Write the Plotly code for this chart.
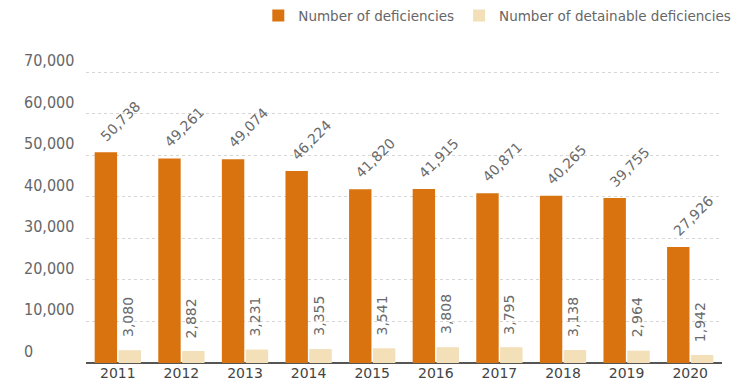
import plotly.graph_objects as go

years = ["2011", "2012", "2013", "2014", "2015", "2016", "2017", "2018", "2019", "2020"]
deficiencies = [50738, 49261, 49074, 46224, 41820, 41915, 40871, 40265, 39755, 27926]
detainable = [3080, 2882, 3231, 3355, 3541, 3808, 3795, 3138, 2964, 1942]
tick_vals = [0, 10000, 20000, 30000, 40000, 50000, 60000, 70000]
tick_text = ["0", "10,000", "20,000", "30,000", "40,000", "50,000", "60,000", "70,000"]

FONT = "DejaVu Sans, sans-serif"
FONT_C = "DejaVu Sans Condensed, DejaVu Sans, sans-serif"
DARK = "#D9730F"
LIGHT = "#F3DFB8"

fig = go.Figure()
fig.add_trace(go.Bar(
    x=years, y=deficiencies, name="Number of deficiencies",
    marker=dict(color=DARK, line=dict(width=0)),
))
fig.add_trace(go.Bar(
    x=years, y=detainable, name="Number of detainable deficiencies",
    marker=dict(color=LIGHT, line=dict(width=0)),
))

# category axis: annotation x uses the category serial number
for i, v in enumerate(deficiencies):
    fig.add_annotation(x=i, y=v, xref="x", yref="y", text=f"{v:,}",
                       showarrow=False, textangle=-45, xanchor="center",
                       yanchor="middle", xshift=3, yshift=31,
                       font=dict(family=FONT, size=14, color="#6a6a6a"))
for i, v in enumerate(detainable):
    fig.add_annotation(x=i, y=v, xref="x", yref="y", text=f"{v:,}",
                       showarrow=False, textangle=-90, xanchor="center",
                       yanchor="middle", xshift=10, yshift=33,
                       font=dict(family=FONT, size=14, color="#6a6a6a"))

for v, t in zip(tick_vals, tick_text):
    fig.add_annotation(x=-0.10, xref="paper", xanchor="left", y=v, yref="y",
                       yanchor="bottom", yshift=0, text=t, showarrow=False,
                       font=dict(family=FONT_C, size=16, color="#666"))

fig.update_layout(
    width=740, height=392,
    margin=dict(l=86, r=18, t=64, b=29, autoexpand=False),
    paper_bgcolor="white", plot_bgcolor="white",
    barmode="group", bargap=0.25, bargroupgap=0.06,
    legend=dict(orientation="h", x=0.995, xref="container", xanchor="right",
                y=0.96, yref="container", yanchor="middle",
                font=dict(family=FONT, size=13.5, color="#666"),
                itemwidth=30, traceorder="normal"),
    xaxis=dict(type="category", range=[-0.5, len(years) - 0.5],
               showgrid=False, showline=False, ticks="",
               tickfont=dict(family=FONT, size=14, color="#444")),
    yaxis=dict(range=[0, 72000], tickvals=tick_vals, showticklabels=False,
               showgrid=True, gridcolor="#d6d6d6", griddash="dot", gridwidth=1,
               zeroline=True, zerolinecolor="#555", zerolinewidth=2),
    showlegend=True,
)

fig.write_html("out.html")
